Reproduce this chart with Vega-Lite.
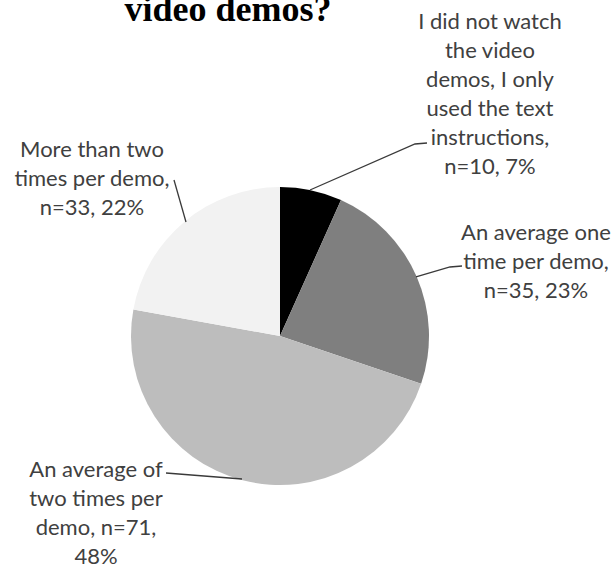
{
  "$schema": "https://vega.github.io/schema/vega-lite/v6.json",
  "width": 612,
  "height": 567,
  "autosize": {"type": "none"},
  "padding": 0,
  "background": "white",
  "config": {"view": {"stroke": null}},
  "datasets": {
    "slices": [
      {"idx": 1, "answer": "I did not watch the video demos, I only used the text instructions", "n": 10},
      {"idx": 2, "answer": "An average one time per demo", "n": 35},
      {"idx": 3, "answer": "An average of two times per demo", "n": 71},
      {"idx": 4, "answer": "More than two times per demo", "n": 33}
    ],
    "labels": [
      {"label": "I did not watch\nthe video\ndemos, I only\nused the text\ninstructions,\nn=10, 7%", "u": 1.409, "v": 2.109},
      {"label": "An average one\ntime per demo,\nn=35, 23%", "u": 1.718, "v": 0.691},
      {"label": "More than two\ntimes per demo,\nn=33, 22%", "u": -1.262, "v": 1.248},
      {"label": "An average of\ntwo times per\ndemo, n=71,\n48%", "u": -1.235, "v": -0.899}
    ],
    "leaders": [
      {"callout": 1, "step": 1, "u": 0.2013, "v": 0.9799},
      {"callout": 1, "step": 2, "u": 0.9060, "v": 1.2886},
      {"callout": 1, "step": 3, "u": 0.9866, "v": 1.2953},
      {"callout": 2, "step": 1, "u": 0.9128, "v": 0.3960},
      {"callout": 2, "step": 2, "u": 1.1409, "v": 0.4631},
      {"callout": 2, "step": 3, "u": 1.2215, "v": 0.4698},
      {"callout": 3, "step": 1, "u": -0.6309, "v": 0.7651},
      {"callout": 3, "step": 2, "u": -0.7114, "v": 1.0470},
      {"callout": 4, "step": 1, "u": -0.2550, "v": -0.9597},
      {"callout": 4, "step": 2, "u": -0.7651, "v": -0.9195}
    ],
    "title": [
      {"text": "video demos?", "u": -0.349, "v": 2.114}
    ]
  },
  "layer": [
    {
      "data": {"name": "slices"},
      "mark": {"type": "arc", "outerRadius": 149},
      "encoding": {
        "x": {"datum": 0, "type": "quantitative", "scale": {"domain": [-1.8792, 2.2282], "nice": false, "zero": false}, "axis": null},
        "y": {"datum": 0, "type": "quantitative", "scale": {"domain": [-1.5503, 2.2550], "nice": false, "zero": false}, "axis": null},
        "theta": {"field": "n", "type": "quantitative", "stack": true},
        "order": {"field": "idx", "type": "quantitative"},
        "color": {
          "field": "answer",
          "type": "nominal",
          "scale": {
            "domain": ["I did not watch the video demos, I only used the text instructions", "An average one time per demo", "An average of two times per demo", "More than two times per demo"],
            "range": ["#000000", "#7f7f7f", "#bdbdbd", "#f2f2f2"]
          },
          "legend": null
        }
      }
    },
    {
      "data": {"name": "leaders"},
      "mark": {"type": "line", "color": "#3a3a3a", "strokeWidth": 1.3},
      "encoding": {
        "x": {"field": "u", "type": "quantitative"},
        "y": {"field": "v", "type": "quantitative"},
        "detail": {"field": "callout"},
        "order": {"field": "step", "type": "quantitative"}
      }
    },
    {
      "data": {"name": "labels"},
      "mark": {"type": "text", "font": "Lato", "fontSize": 22, "color": "#404040", "align": "center", "baseline": "middle", "lineBreak": "\n", "lineHeight": 29},
      "encoding": {
        "x": {"field": "u", "type": "quantitative"},
        "y": {"field": "v", "type": "quantitative"},
        "text": {"field": "label"}
      }
    },
    {
      "data": {"name": "title"},
      "mark": {"type": "text", "font": "Liberation Serif", "fontSize": 36, "fontWeight": "bold", "color": "#000000", "align": "center", "baseline": "alphabetic"},
      "encoding": {
        "x": {"field": "u", "type": "quantitative"},
        "y": {"field": "v", "type": "quantitative"},
        "text": {"field": "text"}
      }
    }
  ]
}
